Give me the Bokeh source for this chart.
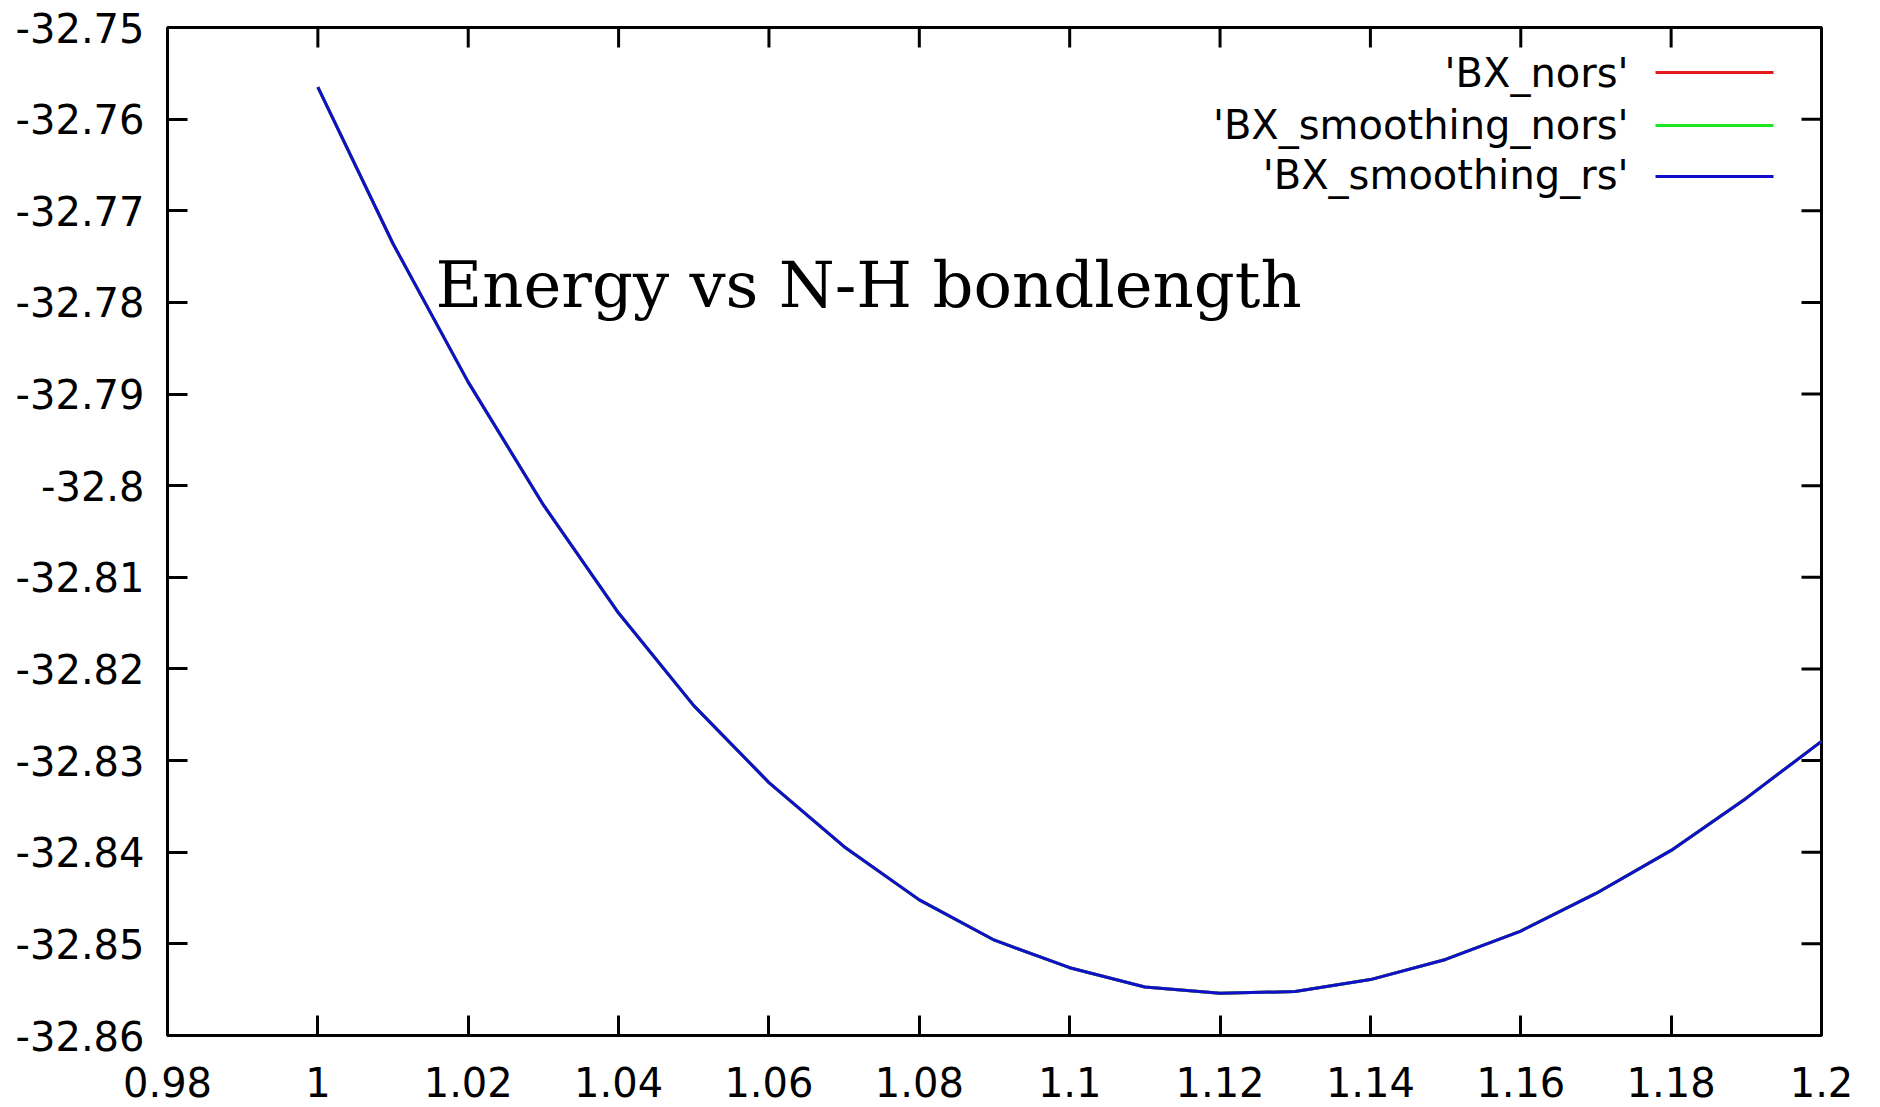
from bokeh.plotting import figure
from bokeh.models import Range1d, FixedTicker, Label, BoxAnnotation
from bokeh.embed import file_html
from bokeh.resources import INLINE

# ---- data ----
bond_length = [1.00, 1.01, 1.02, 1.03, 1.04, 1.05, 1.06, 1.07, 1.08, 1.09, 1.10,
               1.11, 1.12, 1.13, 1.14, 1.15, 1.16, 1.17, 1.18, 1.19, 1.20]
energy_bx_nors = [-32.7565, -32.7736, -32.7887, -32.8021, -32.8139, -32.8240, -32.8324,
                  -32.8394, -32.8452, -32.8496, -32.8526, -32.8547, -32.8554, -32.8552,
                  -32.8539, -32.8517, -32.8486, -32.8445, -32.8398, -32.8341, -32.8279]
energy_bx_smoothing_nors = [-32.7565, -32.7736, -32.7887, -32.8021, -32.8139, -32.8240, -32.8324,
                            -32.8394, -32.8452, -32.8496, -32.8526, -32.8547, -32.8554, -32.8552,
                            -32.8539, -32.8517, -32.8486, -32.8445, -32.8398, -32.8341, -32.8279]
energy_bx_smoothing_rs = [-32.7565, -32.7736, -32.7887, -32.8021, -32.8139, -32.8240, -32.8324,
                          -32.8394, -32.8452, -32.8496, -32.8526, -32.8547, -32.8554, -32.8552,
                          -32.8539, -32.8517, -32.8486, -32.8445, -32.8398, -32.8341, -32.8279]
series_names = ["'BX_nors'", "'BX_smoothing_nors'", "'BX_smoothing_rs'"]
series_colors = ["#e41a1a", "#1ee61e", "#1010cc"]

x_ticks = [0.98, 1.0, 1.02, 1.04, 1.06, 1.08, 1.1, 1.12, 1.14, 1.16, 1.18, 1.2]
x_tick_labels = ["0.98", "1", "1.02", "1.04", "1.06", "1.08", "1.1", "1.12", "1.14", "1.16", "1.18", "1.2"]
y_ticks = [-32.86, -32.85, -32.84, -32.83, -32.82, -32.81, -32.8, -32.79, -32.78, -32.77, -32.76, -32.75]
y_tick_labels = ["-32.86", "-32.85", "-32.84", "-32.83", "-32.82", "-32.81", "-32.8", "-32.79",
                 "-32.78", "-32.77", "-32.76", "-32.75"]
title_text = "Energy vs N-H bondlength"

X_MIN, X_MAX = 0.98, 1.2
Y_MIN, Y_MAX = -32.86, -32.75
FRAME_W, FRAME_H = 1654, 1008
TICK_PX = 20

# ---- figure ----
p = figure(width=1880, height=1107, output_backend="svg", toolbar_location=None,
           x_range=Range1d(X_MIN, X_MAX), y_range=Range1d(Y_MIN, Y_MAX),
           min_border_left=167, min_border_right=59, min_border_top=27, min_border_bottom=72)
p.background_fill_color = "white"
p.border_fill_color = "white"
p.grid.visible = False
p.outline_line_color = "black"
p.outline_line_width = 3

FONT = "DejaVu Sans"
TICK_FS = "40px"

for ax in (p.xaxis[0], p.yaxis[0]):
    ax.axis_line_color = None
    ax.major_tick_in = TICK_PX
    ax.major_tick_out = 0
    ax.major_tick_line_width = 3
    ax.major_tick_line_color = "black"
    ax.minor_tick_line_color = None
    ax.major_label_text_font = FONT
    ax.major_label_text_font_size = TICK_FS
    ax.major_label_text_color = "black"

xa = p.xaxis[0]
ya = p.yaxis[0]
xa.ticker = FixedTicker(ticks=x_ticks)
ya.ticker = FixedTicker(ticks=y_ticks)
xa.major_label_overrides = dict(zip(x_ticks, x_tick_labels))
ya.major_label_overrides = dict(zip(y_ticks, y_tick_labels))
xa.major_label_standoff = 31
ya.major_label_standoff = 23

# mirrored ticks on top and right edges (gnuplot style), from the same tick lists
dy = TICK_PX * (Y_MAX - Y_MIN) / FRAME_H
dx = TICK_PX * (X_MAX - X_MIN) / FRAME_W
p.segment(x0=x_ticks, x1=x_ticks, y0=[Y_MAX] * len(x_ticks), y1=[Y_MAX - dy] * len(x_ticks),
          line_color="black", line_width=3)
p.segment(x0=[X_MAX] * len(y_ticks), x1=[X_MAX - dx] * len(y_ticks), y0=y_ticks, y1=y_ticks,
          line_color="black", line_width=3)

# ---- curves (drawn in gnuplot order: red, green, blue on top) ----
all_series = [energy_bx_nors, energy_bx_smoothing_nors, energy_bx_smoothing_rs]
for ys, c in zip(all_series, series_colors):
    p.line(bond_length, ys, line_color=c, line_width=3)

# ---- title inside the plot ----
p.add_layout(Label(x=268, y=751, x_units="screen", y_units="screen", text=title_text,
                   text_font="DejaVu Serif", text_font_size="64px", text_color="black",
                   text_align="left", text_baseline="alphabetic"))

# ---- gnuplot-style key (text right, sample line after) ----
text_rows = [963, 911, 861]
line_rows = [963, 910, 859]
for name, c, ty, ly in zip(series_names, series_colors, text_rows, line_rows):
    p.add_layout(Label(x=1461, y=ty, x_units="screen", y_units="screen", text=name,
                       text_font=FONT, text_font_size=TICK_FS, text_color="black",
                       text_align="right", text_baseline="middle"))
    p.add_layout(BoxAnnotation(left=1488, right=1606, bottom=ly - 1.5, top=ly + 1.5,
                               left_units="screen", right_units="screen",
                               bottom_units="screen", top_units="screen",
                               fill_color=c, fill_alpha=1.0, line_color=None))

open("out.html", "w").write(file_html(p, INLINE))
